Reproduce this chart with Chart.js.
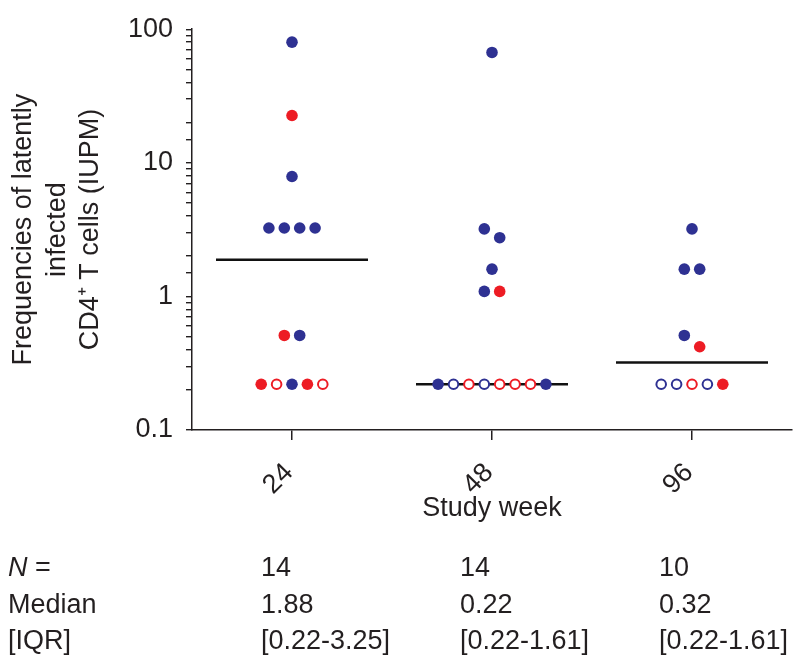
<!DOCTYPE html>
<html>
<head>
<meta charset="utf-8">
<script src="https://cdn.jsdelivr.net/npm/chart.js@4/dist/chart.umd.min.js"></script>
<style>
  html, body { margin: 0; padding: 0; background: #fff; }
  #wrap { position: relative; width: 800px; height: 662px; }
  #chart { position: absolute; left: 0; top: 0; }
  .stats { position: absolute; left: 0; top: 549px; font: 27px "Liberation Sans", Arial, Helvetica, sans-serif; color: #231f20; }
  .stats div { position: absolute; white-space: nowrap; line-height: 36.5px; }
</style>
</head>
<body>
<div id="wrap">
  <canvas id="chart" width="800" height="662"></canvas>
  <div class="stats" id="stats"></div>
</div>
<script>
// Study weeks and per-week IUPM values
var weeks = ['24', '48', '96'];

var week24Values = [80, 22.6, 7.9, 3.25, 3.25, 3.25, 3.25, 0.51, 0.51, 0.22, 0.22, 0.22, 0.22, 0.22];
var week24Groups = ['bf', 'rf', 'bf', 'bf', 'bf', 'bf', 'bf', 'rf', 'bf', 'rf', 'ro', 'bf', 'rf', 'ro'];
var week24Slots  = [0, 0, 0, -1.5, -0.5, 0.5, 1.5, -0.5, 0.5, -2, -1, 0, 1, 2];

var week48Values = [67, 3.2, 2.75, 1.6, 1.09, 1.09, 0.22, 0.22, 0.22, 0.22, 0.22, 0.22, 0.22, 0.22];
var week48Groups = ['bf', 'bf', 'bf', 'bf', 'bf', 'rf', 'bf', 'bo', 'ro', 'bo', 'ro', 'ro', 'ro', 'bf'];
var week48Slots  = [0, -0.5, 0.5, 0, -0.5, 0.5, -3.5, -2.5, -1.5, -0.5, 0.5, 1.5, 2.5, 3.5];

var week96Values = [3.2, 1.6, 1.6, 0.51, 0.42, 0.22, 0.22, 0.22, 0.22, 0.22];
var week96Groups = ['bf', 'bf', 'bf', 'bf', 'rf', 'bo', 'bo', 'ro', 'bo', 'rf'];
var week96Slots  = [0, -0.5, 0.5, -0.5, 0.5, -2, -1, 0, 1, 2];

var nValues = [14, 14, 10];
var medians = [1.88, 0.22, 0.32];
var iqrs = ['0.22-3.25', '0.22-1.61', '0.22-1.61'];

var yTicks = [0.1, 1, 10, 100];

(function(){
  var BLUE = '#2e3192', RED = '#ed1c24';
  var SLOT = 0.077;      // horizontal spacing between side-by-side dots (x units)
  var HALF_LINE = 0.38;  // half width of median bar
  var FONT = '"Liberation Sans", Arial, Helvetica, sans-serif';
  var TXT = '#231f20';

  var styles = {
    bf: { color: BLUE, open: false },
    rf: { color: RED, open: false },
    bo: { color: BLUE, open: true },
    ro: { color: RED, open: true }
  };

  var allValues = [week24Values, week48Values, week96Values];
  var allGroups = [week24Groups, week48Groups, week96Groups];
  var allSlots  = [week24Slots, week48Slots, week96Slots];

  var pts = { bf: [], rf: [], bo: [], ro: [] };
  allValues.forEach(function(vals, i){
    vals.forEach(function(v, j){
      pts[allGroups[i][j]].push({ x: i + allSlots[i][j] * SLOT, y: v });
    });
  });

  var datasets = [];
  Object.keys(pts).forEach(function(k){
    var s = styles[k];
    datasets.push({
      type: 'scatter',
      data: pts[k],
      order: 0,
      pointRadius: s.open ? 4.8 : 5.8,
      pointBorderWidth: s.open ? 2 : 0,
      pointBackgroundColor: s.open ? '#fff' : s.color,
      pointBorderColor: s.color,
      pointHoverRadius: s.open ? 4.8 : 5.8
    });
  });

  medians.forEach(function(m, i){
    datasets.push({
      type: 'line',
      data: [{ x: i - HALF_LINE, y: m }, { x: i + HALF_LINE, y: m }],
      order: 1,
      borderColor: '#111',
      borderWidth: 2.6,
      pointRadius: 0,
      fill: false
    });
  });

  new Chart(document.getElementById('chart').getContext('2d'), {
    type: 'scatter',
    data: { datasets: datasets },
    options: {
      responsive: false,
      animation: false,
      events: [],
      layout: { padding: { top: 20, right: 8, left: 0, bottom: 0 } },
      plugins: { legend: { display: false }, tooltip: { enabled: false } },
      scales: {
        x: {
          type: 'linear',
          min: -0.5,
          max: 2.5,
          afterFit: function(s){ s.height = 232; },
          afterBuildTicks: function(s){ s.ticks = weeks.map(function(w, i){ return { value: i }; }); },
          border: { display: true, color: TXT, width: 1.5 },
          grid: { display: true, drawOnChartArea: false, drawTicks: true, tickLength: 10, color: TXT, lineWidth: 1.5 },
          ticks: {
            autoSkip: false,
            minRotation: 45,
            maxRotation: 45,
            padding: 17,
            labelOffset: -3,
            color: TXT,
            font: { family: FONT, size: 27 },
            callback: function(v){ return weeks[v]; }
          },
          title: {
            display: true,
            text: 'Study week',
            color: TXT,
            font: { family: FONT, size: 27, lineHeight: 1.2 },
            padding: { top: 0, bottom: 137 }
          }
        },
        y: {
          type: 'logarithmic',
          min: 0.1,
          max: 100,
          afterFit: function(s){ s.width = 192; },
          border: { display: true, color: TXT, width: 1.5 },
          grid: { display: true, drawOnChartArea: false, drawTicks: true, tickLength: 6, color: TXT, lineWidth: 1.4 },
          ticks: {
            autoSkip: false,
            padding: 13,
            color: TXT,
            font: { family: FONT, size: 27 },
            callback: function(v){
              return yTicks.indexOf(Number(v.toPrecision(3))) >= 0 ? String(Number(v.toPrecision(3))) : '';
            }
          },
          title: {
            display: true,
            text: ['Frequencies of latently', 'infected', 'CD4\u207A T cells (IUPM)'],
            color: TXT,
            font: { family: FONT, size: 27, lineHeight: 1.24 },
            padding: { top: 7, bottom: 0 }
          }
        }
      }
    }
  });

  // N / Median / IQR table under the plot
  var stats = document.getElementById('stats');
  var colX = [8, 261, 460, 659];
  var rows = [
    ['<i>N</i> ='].concat(nValues.map(String)),
    ['Median'].concat(medians.map(function(m){ return m.toFixed(2); })),
    ['[IQR]'].concat(iqrs.map(function(q){ return '[' + q + ']'; }))
  ];
  rows.forEach(function(r, ri){
    r.forEach(function(cell, ci){
      var d = document.createElement('div');
      d.style.left = colX[ci] + 'px';
      d.style.top = (ri * 36.5) + 'px';
      d.innerHTML = cell;
      stats.appendChild(d);
    });
  });
})();
</script>
</body>
</html>
